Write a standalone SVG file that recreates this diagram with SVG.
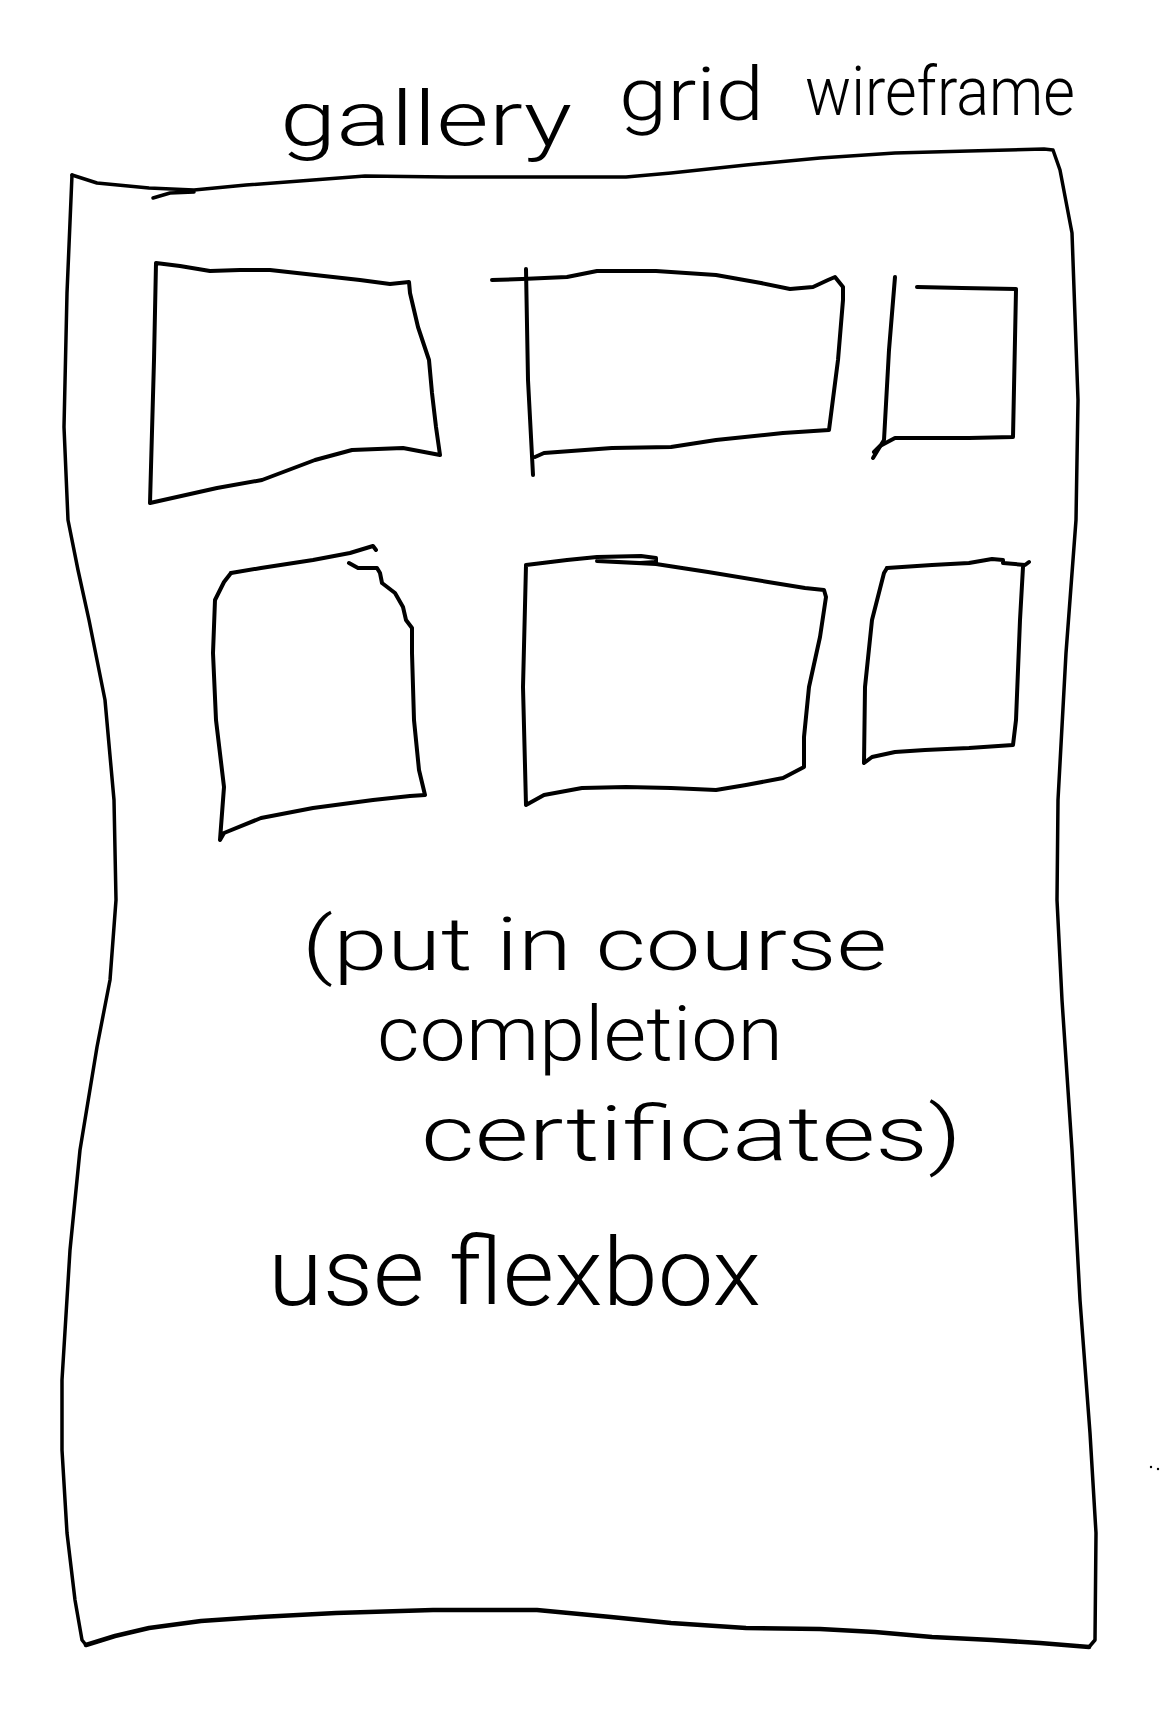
<svg xmlns="http://www.w3.org/2000/svg" width="1163" height="1721" viewBox="0 0 1163 1721">
  <style>
    .ink { fill: none; stroke: #000; stroke-width: 3.5; stroke-linecap: round; stroke-linejoin: round; }
    .tile { stroke-width: 4; }
    .heavy { stroke-width: 4.5; }
    .hand { font-family: Roboto, "Liberation Sans", sans-serif; font-weight: 300; fill: #000; }
  </style>
  <rect width="1163" height="1721" fill="#fff"/>

  <!-- page outline -->
  <g id="page">
    <path class="ink" d="M72,175 L97,183 L149,188 L194,190 L246,185 L313,180 L365,176 L447,177 L544,177 L626,177 L671,173 L746,165 L820,158 L895,153 L969,151 L1044,149 L1053,150 L1060,170 L1072,233 L1078,400 L1076,520 L1066,653 L1058,800 L1057,900 L1062,1000 L1072,1150 L1080,1300 L1090,1433 L1096,1533 L1095,1640 L1089,1647"/>
    <path class="ink heavy" d="M1089,1647 L1040,1643 L992,1640 L932,1637 L875,1632 L820,1629 L746,1628 L671,1623 L611,1617 L537,1610 L433,1610 L336,1613 L260,1617 L201,1621 L149,1628 L115,1636 L86,1645"/>
    <path class="ink" d="M86,1645 L82,1640 L75,1600 L67,1533 L62,1450 L62,1380 L70,1250 L80,1150 L97,1047 L110,980 L116,900 L114,800 L105,700 L89,620 L78,570 L68,520 L64,427 L67,293 L72,175"/>
    <path class="ink" d="M153,198 L170,193 L194,192"/>
  </g>

  <!-- top row of gallery tiles -->
  <g id="tile-1">
    <path class="ink tile" d="M156,263 L180,266 L210,271 L240,270 L270,270 L315,275 L360,280 L390,284 L409,282 L410,293 L418,327 L429,360 L432,393 L436,427 L440,455 L403,448 L352,450 L315,460 L262,480 L217,488 L150,503 L154,360 L156,263"/>
  </g>
  <g id="tile-2">
    <path class="ink tile" d="M526,269 L528,380 L533,475"/>
    <path class="ink tile" d="M492,280 L522,279 L567,277 L597,271 L656,271 L716,275 L761,283 L790,289 L813,287 L828,280 L835,277 L843,287 L843,300 L838,360 L829,430 L783,433 L716,440 L671,447 L612,448 L544,453 L535,457"/>
  </g>
  <g id="tile-3">
    <path class="ink tile" d="M895,277 L889,350 L884,440 L873,458"/>
    <path class="ink tile" d="M874,452 L880,446 L895,438 L932,438 L969,438 L1013,437 L1016,290"/>
    <path class="ink tile" d="M917,287 L962,288 L1016,289"/>
  </g>

  <!-- bottom row of gallery tiles -->
  <g id="tile-4">
    <path class="ink tile" d="M231,573 L261,568 L313,560 L350,553 L373,546 L376,550"/>
    <path class="ink tile" d="M349,563 L358,568 L377,568 L380,573 L382,583 L395,593 L403,607 L406,620 L412,628 L412,653 L414,720 L419,770 L425,795 L410,796 L373,800 L313,808 L261,818 L224,833 L220,840 L224,787 L216,720 L213,653 L215,600 L224,582 L231,573"/>
  </g>
  <g id="tile-5">
    <path class="ink tile" d="M526,565 L567,560 L597,557 L641,556 L656,558 L656,562 L640,563 L597,561 L656,564 L708,572 L768,582 L805,588 L824,590 L826,597 L820,637 L809,687 L804,737 L804,767 L783,778 L746,785 L716,790 L671,788 L626,787 L582,788 L544,795 L526,805 L523,687 L526,565"/>
  </g>
  <g id="tile-6">
    <path class="ink tile" d="M887,568 L932,565 L969,563 L992,559 L1003,560 L1003,563 L1025,565 L1029,562"/>
    <path class="ink tile" d="M1023,567 L1020,620 L1016,720 L1013,745 L969,748 L925,750 L895,752 L872,757 L864,763 L865,687 L872,620 L884,573 L887,568"/>
  </g>

  <!-- heading -->
  <g id="title">
    <text class="hand" x="280" y="145" font-size="76" textLength="292" lengthAdjust="spacingAndGlyphs">gallery</text>
    <text class="hand" x="619" y="120" font-size="74" textLength="145" lengthAdjust="spacingAndGlyphs">grid</text>
    <text class="hand" x="805" y="115" font-size="68" textLength="270" lengthAdjust="spacingAndGlyphs">wireframe</text>
  </g>

  <!-- notes -->
  <g id="note-content">
    <text class="hand" x="302" y="970" font-size="74" textLength="585" lengthAdjust="spacingAndGlyphs">(put in course</text>
    <text class="hand" x="377" y="1060" font-size="76" textLength="406" lengthAdjust="spacingAndGlyphs">completion</text>
    <text class="hand" x="421" y="1160" font-size="76" textLength="541" lengthAdjust="spacingAndGlyphs">certificates)</text>
  </g>
  <g id="note-layout">
    <text class="hand" x="268" y="1305" font-size="94" textLength="493" lengthAdjust="spacingAndGlyphs">use flexbox</text>
  </g>

  <!-- stray marks -->
  <g id="marks">
    <circle cx="1151" cy="1467" r="1.2" fill="#000"/>
    <circle cx="1158" cy="1469" r="1.2" fill="#000"/>
  </g>
</svg>
